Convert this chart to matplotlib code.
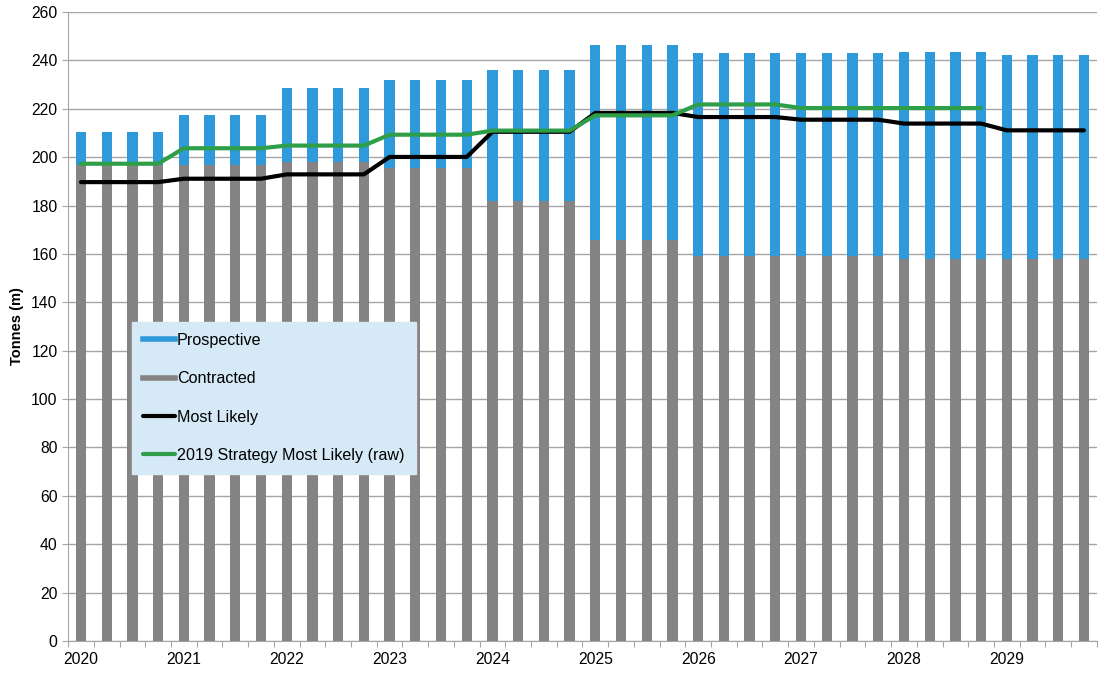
import numpy as np
import matplotlib.pyplot as plt

plt.rcParams['font.family'] = ['Liberation Sans', 'DejaVu Sans']

years = ['2020', '2021', '2022', '2023', '2024', '2025', '2026', '2027', '2028', '2029']

# quarterly values, same for every quarter of a year
contracted_yr = [196.6, 196.6, 198.1, 195.5, 181.7, 165.6, 159.0, 159.0, 157.8, 157.8]
total_yr = [210.4, 217.6, 228.5, 232.1, 236.2, 246.2, 243.1, 243.1, 243.5, 242.1]
most_likely_yr = [189.7, 191.1, 192.9, 200.1, 210.5, 218.3, 216.6, 215.5, 213.9, 211.1]
strategy_2019_yr = [197.3, 203.7, 204.8, 209.3, 211.0, 217.3, 221.8, 220.3, 220.3]

contracted = np.repeat(contracted_yr, 4)
prospective = np.repeat(total_yr, 4) - contracted
most_likely = np.repeat(most_likely_yr, 4)
strategy_2019 = np.repeat(strategy_2019_yr, 4)

x = np.arange(len(contracted))

fig = plt.figure(figsize=(10.99, 6.73), dpi=100)
ax = fig.add_axes([0.062, 0.0475, 0.936, 0.9346])

ax.bar(x, contracted, width=0.4, color='#858383', zorder=2)
ax.bar(x, prospective, width=0.4, bottom=contracted, color='#2e9ad9', zorder=2)
ax.plot(x, most_likely, color='black', lw=3, zorder=3, solid_capstyle='round')
ax.plot(x[:len(strategy_2019)], strategy_2019, color='#2e9e48', lw=3, zorder=4,
        solid_capstyle='round')

ax.set_xlim(-0.5, len(x) - 0.5)
ax.set_ylim(0, 260)
ax.set_yticks(np.arange(0, 261, 20))
ax.grid(axis='y', color='#a6a6a6', lw=1, zorder=0)

# tick marks on category boundaries, year labels under Q1 bars
ax.set_xticks(np.arange(-0.5, len(x), 1))
ax.set_xticklabels([])
ax.set_xticks(x[::4], minor=True)
ax.set_xticklabels(years, minor=True)
ax.tick_params(axis='x', which='major', length=4, color='#a6a6a6')
ax.tick_params(axis='x', which='minor', length=0, labelsize=11.3, pad=8)
ax.tick_params(axis='y', length=4, color='#a6a6a6', labelsize=11.3)

for s in ['top', 'right']:
    ax.spines[s].set_visible(False)
for s in ['left', 'bottom']:
    ax.spines[s].set_color('#a6a6a6')

ax.set_ylabel('Tonnes (m)', fontsize=10.5, fontweight='bold', labelpad=5)

handles = [
    plt.Line2D([], [], color='#2e9ad9', lw=4),
    plt.Line2D([], [], color='#858383', lw=4),
    plt.Line2D([], [], color='black', lw=3, solid_capstyle='round'),
    plt.Line2D([], [], color='#2e9e48', lw=3, solid_capstyle='round'),
]
labels = ['Prospective', 'Contracted', 'Most Likely', '2019 Strategy Most Likely (raw)']
leg = ax.legend(handles, labels, loc='lower left', bbox_to_anchor=(0.062, 0.265),
                frameon=True, fancybox=False, fontsize=11.6, handlelength=2.0,
                handletextpad=0.1, labelspacing=1.45, borderpad=0.7, borderaxespad=0)
leg.get_frame().set_facecolor('#d5e9f6')
leg.get_frame().set_edgecolor('#d5e9f6')
leg.get_frame().set_alpha(1)
leg.set_zorder(10)

plt.savefig('out.png', dpi=100)
